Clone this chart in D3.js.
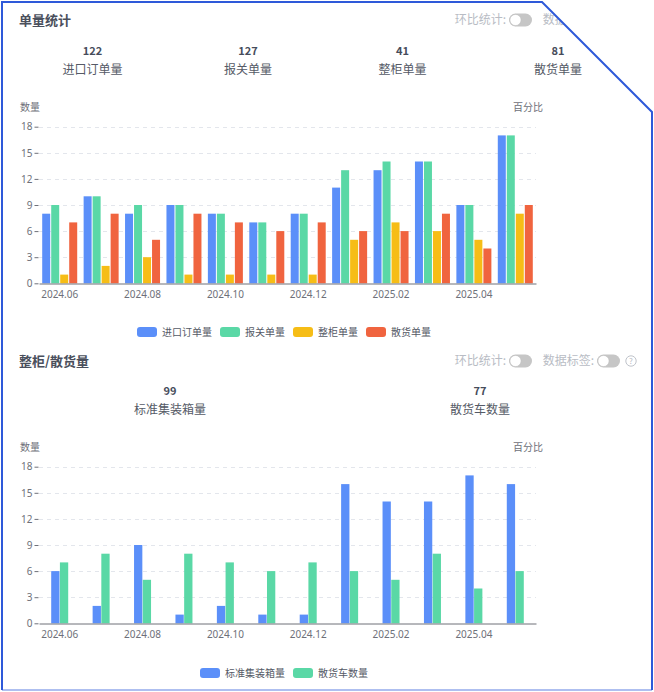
<!DOCTYPE html>
<html>
<head>
<meta charset="utf-8">
<script src="https://cdn.jsdelivr.net/npm/d3@7"></script>
<style>
  body { margin: 0; background: #fff; }
  svg text { font-family: "Noto Sans CJK SC", "Noto Sans", sans-serif; }
</style>
</head>
<body>
<div id="chartContainer"></div>
<script>
const months = ["2024.06", "2024.07", "2024.08", "2024.09", "2024.10", "2024.11",
                "2024.12", "2025.01", "2025.02", "2025.03", "2025.04", "2025.05"];
const yTicks = [0, 3, 6, 9, 12, 15, 18];

// 单量统计
const orderSeries = ["进口订单量", "报关单量", "整柜单量", "散货单量"];
const importOrders = [8, 10, 8, 9, 8, 7, 8, 11, 13, 14, 9, 17];
const customsOrders = [9, 10, 9, 9, 8, 7, 8, 13, 14, 14, 9, 17];
const fclOrders = [1, 2, 3, 1, 1, 1, 1, 5, 7, 6, 5, 8];
const bulkOrders = [7, 8, 5, 8, 7, 6, 7, 6, 6, 8, 4, 9];

// 整柜/散货量
const cargoSeries = ["标准集装箱量", "散货车数量"];
const teuCount = [6, 2, 9, 1, 2, 1, 1, 16, 14, 14, 17, 16];
const bulkTrucks = [7, 8, 5, 8, 7, 6, 7, 6, 5, 8, 4, 6];

const colors = ["#5b8ff9", "#5ad8a6", "#f6bd16", "#f0643f"];
const W = 654, H = 692;

const svgRoot = d3.select("#chartContainer").append("svg")
    .attr("width", W).attr("height", H);

// cut-corner panel
const corner = [[2, 2], [542, 2], [652, 112], [652, 690], [2, 690]];
svgRoot.append("clipPath").attr("id", "panelClip")
    .append("polygon").attr("points", corner.map(p => p.join(",")).join(" "));

const svg = svgRoot.append("g").attr("clip-path", "url(#panelClip)");

svgRoot.append("line")
    .attr("x1", 2).attr("x2", 652).attr("y1", 690).attr("y2", 690)
    .attr("stroke", "#aebff0").attr("stroke-width", 2);
svgRoot.append("path")
    .attr("d", "M2,690 L2,2 L542,2 L652,112 L652,690")
    .attr("fill", "none").attr("stroke", "#2e59d9").attr("stroke-width", 2);

function drawToggle(g, x, y) {
    g.append("rect").attr("x", x).attr("y", y - 6.5)
        .attr("width", 23).attr("height", 13).attr("rx", 6.5)
        .attr("fill", "#c6c6c6");
    g.append("circle").attr("cx", x + 6.5).attr("cy", y).attr("r", 5.6)
        .attr("fill", "#fff").attr("stroke", "#bdbdbd").attr("stroke-width", 0.6);
}

function drawHeader(title, y) {
    svg.append("text").attr("x", 19).attr("y", y).attr("dy", "0.35em")
        .attr("font-size", 13).attr("font-weight", 700).attr("fill", "#4a4f5c")
        .text(title);

    const hint = svg.append("g").attr("font-size", 12).attr("fill", "#b8bcc4");
    hint.append("text").attr("x", 506).attr("y", y).attr("dy", "0.35em")
        .attr("text-anchor", "end").text("环比统计:");
    drawToggle(hint, 509, y);
    hint.append("text").attr("x", 594).attr("y", y).attr("dy", "0.35em")
        .attr("text-anchor", "end").text("数据标签:");
    drawToggle(hint, 597, y);
    hint.append("circle").attr("cx", 631).attr("cy", y).attr("r", 5.2)
        .attr("fill", "none").attr("stroke", "#b8bcc4").attr("stroke-width", 0.9);
    hint.append("text").attr("x", 631).attr("y", y).attr("dy", "0.35em")
        .attr("text-anchor", "middle").attr("font-size", 8).text("?");
}

function drawStats(names, totals, centers, y) {
    names.forEach((name, i) => {
        svg.append("text").attr("x", centers[i]).attr("y", y).attr("dy", "0.35em")
            .attr("text-anchor", "middle").attr("font-size", 11).attr("font-weight", 700)
            .attr("fill", "#464c5b").text(totals[i]);
        svg.append("text").attr("x", centers[i]).attr("y", y + 19).attr("dy", "0.35em")
            .attr("text-anchor", "middle").attr("font-size", 12)
            .attr("fill", "#555a66").text(name);
    });
}

function drawBars(names, seriesData, opt) {
    const x0 = d3.scaleBand().domain(months).range([39, 536]);
    const y = d3.scaleLinear().domain([0, 18]).range([opt.bottom, opt.bottom - 156.6]);
    const groupW = opt.barW * names.length + opt.gap * (names.length - 1);
    const x1 = d3.scaleBand().domain(names)
        .range([(x0.bandwidth() - groupW) / 2, (x0.bandwidth() + groupW) / 2])
        .paddingInner(opt.gap / (opt.barW + opt.gap));

    const g = svg.append("g");

    // axis names
    g.append("text").attr("x", 20).attr("y", y(18) - 19).attr("dy", "0.35em")
        .attr("font-size", 10).attr("fill", "#6e7079").text("数量");
    g.append("text").attr("x", 543).attr("y", y(18) - 19).attr("dy", "0.35em")
        .attr("text-anchor", "end").attr("font-size", 10).attr("fill", "#6e7079").text("百分比");

    // grid
    g.append("g").selectAll("line").data(yTicks.filter(d => d > 0)).join("line")
        .attr("x1", 39).attr("x2", 536)
        .attr("y1", d => Math.round(y(d)) + 0.5).attr("y2", d => Math.round(y(d)) + 0.5)
        .attr("stroke", "#e3e6ec").attr("stroke-dasharray", "4,4");

    const yAxis = g.append("g").attr("transform", "translate(38.5,0)")
        .call(d3.axisLeft(y).tickValues(yTicks).tickSize(4).tickPadding(2));
    yAxis.select(".domain").remove();
    yAxis.selectAll("line").attr("stroke", "#6e7079");
    yAxis.selectAll("text").attr("font-size", 10).attr("fill", "#6e7079")
        .style("font-family", "'Noto Sans', sans-serif");

    // bars
    const groups = g.append("g").selectAll("g").data(months).join("g")
        .attr("transform", d => `translate(${x0(d)},0)`);
    groups.selectAll("rect")
        .data((m, i) => names.map((n, k) => ({ key: n, k: k, value: seriesData[k][i] })))
        .join("rect")
        .attr("x", d => x1(d.key))
        .attr("width", x1.bandwidth())
        .attr("y", d => y(d.value))
        .attr("height", d => y(0) - y(d.value))
        .attr("fill", d => colors[d.k]);

    const xAxis = g.append("g").attr("transform", `translate(0,${Math.round(opt.bottom) + 0.5})`)
        .call(d3.axisBottom(x0).tickValues(months.filter((m, i) => i % 2 === 0))
            .tickSize(0).tickSizeOuter(0).tickPadding(7));
    xAxis.select(".domain").attr("stroke", "#6e7079");
    xAxis.selectAll("text").attr("font-size", 10).attr("fill", "#6e7079")
        .style("font-family", "'Noto Sans', sans-serif");

    // legend
    const legend = g.append("g").attr("font-size", 10).attr("fill", "#555a66");
    const widths = names.map(n => 25 + n.length * 10);
    const total = d3.sum(widths) + 8 * (names.length - 1);
    let lx = 284 - total / 2;
    names.forEach((n, k) => {
        legend.append("rect").attr("x", lx).attr("y", opt.legendY - 5)
            .attr("width", 20).attr("height", 10).attr("rx", 3).attr("fill", colors[k]);
        legend.append("text").attr("x", lx + 25).attr("y", opt.legendY).attr("dy", "0.35em").text(n);
        lx += widths[k] + 8;
    });
}

const orderData = [importOrders, customsOrders, fclOrders, bulkOrders];
const cargoData = [teuCount, bulkTrucks];

drawHeader("单量统计", 20);
drawStats(orderSeries, orderData.map(d => d3.sum(d)), [92.5, 248, 402.5, 558], 51);
drawBars(orderSeries, orderData, { bottom: 283.3, barW: 8, gap: 1, legendY: 332 });

drawHeader("整柜/散货量", 361);
drawStats(cargoSeries, cargoData.map(d => d3.sum(d)), [170, 480], 391);
drawBars(cargoSeries, cargoData, { bottom: 623.3, barW: 8.3, gap: 0.4, legendY: 673 });
</script>
</body>
</html>
